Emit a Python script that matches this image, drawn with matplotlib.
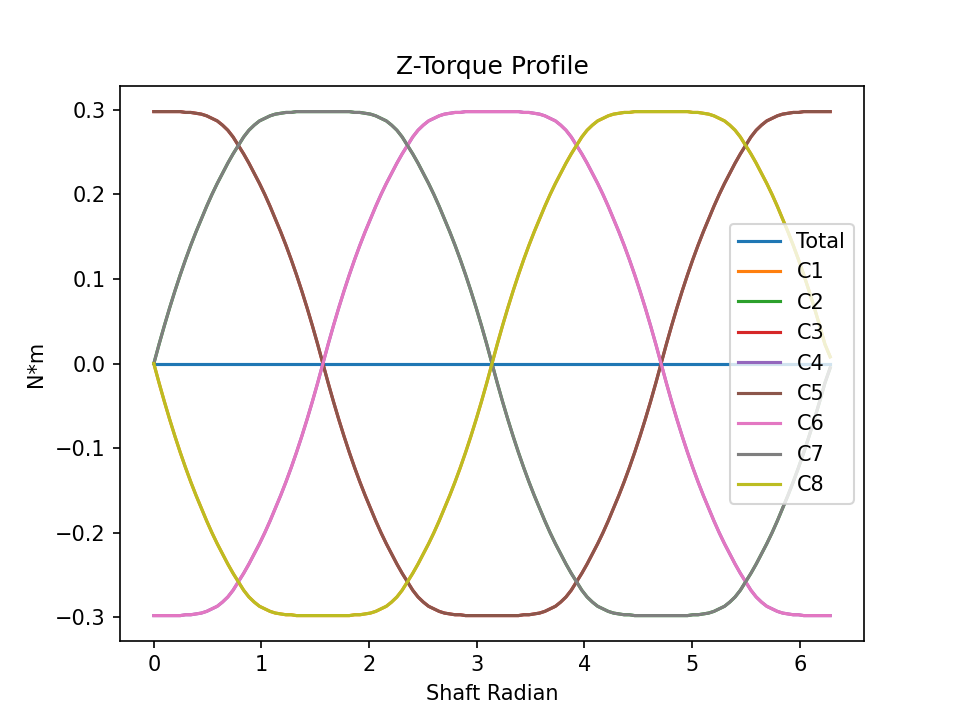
import numpy as np
import matplotlib
matplotlib.use('Agg')
import matplotlib.pyplot as plt

# shaft angle samples, 0 .. 2*pi in steps of pi/64
shaft_rad = np.linspace(0, 2 * np.pi, 129)

# values (N*m)
total = [0.0] * 129

c5 = [0.298, 0.298, 0.298, 0.298, 0.298, 0.298, 0.297, 0.297, 0.296, 0.295, 0.293, 0.290, 0.287, 0.282, 0.276, 0.268,
      0.258, 0.248, 0.237, 0.225, 0.213, 0.200, 0.186, 0.171, 0.156, 0.140, 0.123, 0.105, 0.086, 0.066, 0.045, 0.023, 0.000,
      -0.023, -0.045, -0.066, -0.086, -0.105, -0.123, -0.140, -0.156, -0.171, -0.186, -0.200, -0.213, -0.225, -0.237, -0.248, -0.258,
      -0.268, -0.276, -0.282, -0.287, -0.290, -0.293, -0.295, -0.296, -0.297, -0.297, -0.298, -0.298, -0.298, -0.298, -0.298, -0.298,
      -0.298, -0.298, -0.298, -0.298, -0.298, -0.297, -0.297, -0.296, -0.295, -0.293, -0.290, -0.287, -0.282, -0.276, -0.268, -0.258,
      -0.248, -0.237, -0.225, -0.213, -0.200, -0.186, -0.171, -0.156, -0.140, -0.123, -0.105, -0.086, -0.066, -0.045, -0.023, 0.000,
      0.023, 0.045, 0.066, 0.086, 0.105, 0.123, 0.140, 0.156, 0.171, 0.186, 0.200, 0.213, 0.225, 0.237, 0.248, 0.258,
      0.268, 0.276, 0.282, 0.287, 0.290, 0.293, 0.295, 0.296, 0.297, 0.297, 0.298, 0.298, 0.298, 0.298, 0.298, 0.298]

c6 = [-0.298, -0.298, -0.298, -0.298, -0.298, -0.298, -0.297, -0.297, -0.296, -0.295, -0.293, -0.290, -0.287, -0.282, -0.276, -0.268,
      -0.258, -0.248, -0.237, -0.225, -0.213, -0.200, -0.186, -0.171, -0.156, -0.140, -0.123, -0.105, -0.086, -0.066, -0.045, -0.023, 0.000,
      0.023, 0.045, 0.066, 0.086, 0.105, 0.123, 0.140, 0.156, 0.171, 0.186, 0.200, 0.213, 0.225, 0.237, 0.248, 0.258,
      0.268, 0.276, 0.282, 0.287, 0.290, 0.293, 0.295, 0.296, 0.297, 0.297, 0.298, 0.298, 0.298, 0.298, 0.298, 0.298,
      0.298, 0.298, 0.298, 0.298, 0.298, 0.297, 0.297, 0.296, 0.295, 0.293, 0.290, 0.287, 0.282, 0.276, 0.268, 0.258,
      0.248, 0.237, 0.225, 0.213, 0.200, 0.186, 0.171, 0.156, 0.140, 0.123, 0.105, 0.086, 0.066, 0.045, 0.023, 0.000,
      -0.023, -0.045, -0.066, -0.086, -0.105, -0.123, -0.140, -0.156, -0.171, -0.186, -0.200, -0.213, -0.225, -0.237, -0.248, -0.258,
      -0.268, -0.276, -0.282, -0.287, -0.290, -0.293, -0.295, -0.296, -0.297, -0.297, -0.298, -0.298, -0.298, -0.298, -0.298, -0.298]

c7 = [0.000, 0.023, 0.045, 0.066, 0.086, 0.105, 0.123, 0.140, 0.156, 0.171, 0.186, 0.200, 0.213, 0.225, 0.237, 0.248,
      0.258, 0.268, 0.276, 0.282, 0.287, 0.290, 0.293, 0.295, 0.296, 0.297, 0.297, 0.298, 0.298, 0.298, 0.298, 0.298, 0.298,
      0.298, 0.298, 0.298, 0.298, 0.298, 0.297, 0.297, 0.296, 0.295, 0.293, 0.290, 0.287, 0.282, 0.276, 0.268, 0.258,
      0.248, 0.237, 0.225, 0.213, 0.200, 0.186, 0.171, 0.156, 0.140, 0.123, 0.105, 0.086, 0.066, 0.045, 0.023, 0.000,
      -0.023, -0.045, -0.066, -0.086, -0.105, -0.123, -0.140, -0.156, -0.171, -0.186, -0.200, -0.213, -0.225, -0.237, -0.248, -0.258,
      -0.268, -0.276, -0.282, -0.287, -0.290, -0.293, -0.295, -0.296, -0.297, -0.297, -0.298, -0.298, -0.298, -0.298, -0.298, -0.298,
      -0.298, -0.298, -0.298, -0.298, -0.298, -0.297, -0.297, -0.296, -0.295, -0.293, -0.290, -0.287, -0.282, -0.276, -0.268, -0.258,
      -0.248, -0.237, -0.225, -0.213, -0.200, -0.186, -0.171, -0.156, -0.140, -0.123, -0.105, -0.086, -0.066, -0.045, -0.023, -0.005]

c8 = [0.000, -0.023, -0.045, -0.066, -0.086, -0.105, -0.123, -0.140, -0.156, -0.171, -0.186, -0.200, -0.213, -0.225, -0.237, -0.248,
      -0.258, -0.268, -0.276, -0.282, -0.287, -0.290, -0.293, -0.295, -0.296, -0.297, -0.297, -0.298, -0.298, -0.298, -0.298, -0.298, -0.298,
      -0.298, -0.298, -0.298, -0.298, -0.298, -0.297, -0.297, -0.296, -0.295, -0.293, -0.290, -0.287, -0.282, -0.276, -0.268, -0.258,
      -0.248, -0.237, -0.225, -0.213, -0.200, -0.186, -0.171, -0.156, -0.140, -0.123, -0.105, -0.086, -0.066, -0.045, -0.023, 0.000,
      0.023, 0.045, 0.066, 0.086, 0.105, 0.123, 0.140, 0.156, 0.171, 0.186, 0.200, 0.213, 0.225, 0.237, 0.248, 0.258,
      0.268, 0.276, 0.282, 0.287, 0.290, 0.293, 0.295, 0.296, 0.297, 0.297, 0.298, 0.298, 0.298, 0.298, 0.298, 0.298,
      0.298, 0.298, 0.298, 0.298, 0.298, 0.297, 0.297, 0.296, 0.295, 0.293, 0.290, 0.287, 0.282, 0.276, 0.268, 0.258,
      0.248, 0.237, 0.225, 0.213, 0.200, 0.186, 0.171, 0.156, 0.140, 0.123, 0.105, 0.086, 0.066, 0.045, 0.023, 0.008]

# C1..C4 lie under C5..C8 in the reference, so they share the same curves
c1 = c8
c2 = c7
c3 = c5
c4 = c6

coils = [c1, c2, c3, c4, c5, c6, c7, c8]
coil_names = ['C1', 'C2', 'C3', 'C4', 'C5', 'C6', 'C7', 'C8']

fig = plt.figure(figsize=(6.4, 4.8), dpi=150)
plt.plot(shaft_rad, total, label='Total')
for vals, name in zip(coils, coil_names):
    plt.plot(shaft_rad, vals, label=name)

plt.title('Z-Torque Profile')
plt.xlabel('Shaft Radian')
plt.ylabel('N*m')
plt.legend(loc='center right')
plt.savefig('out.png', dpi=150)
